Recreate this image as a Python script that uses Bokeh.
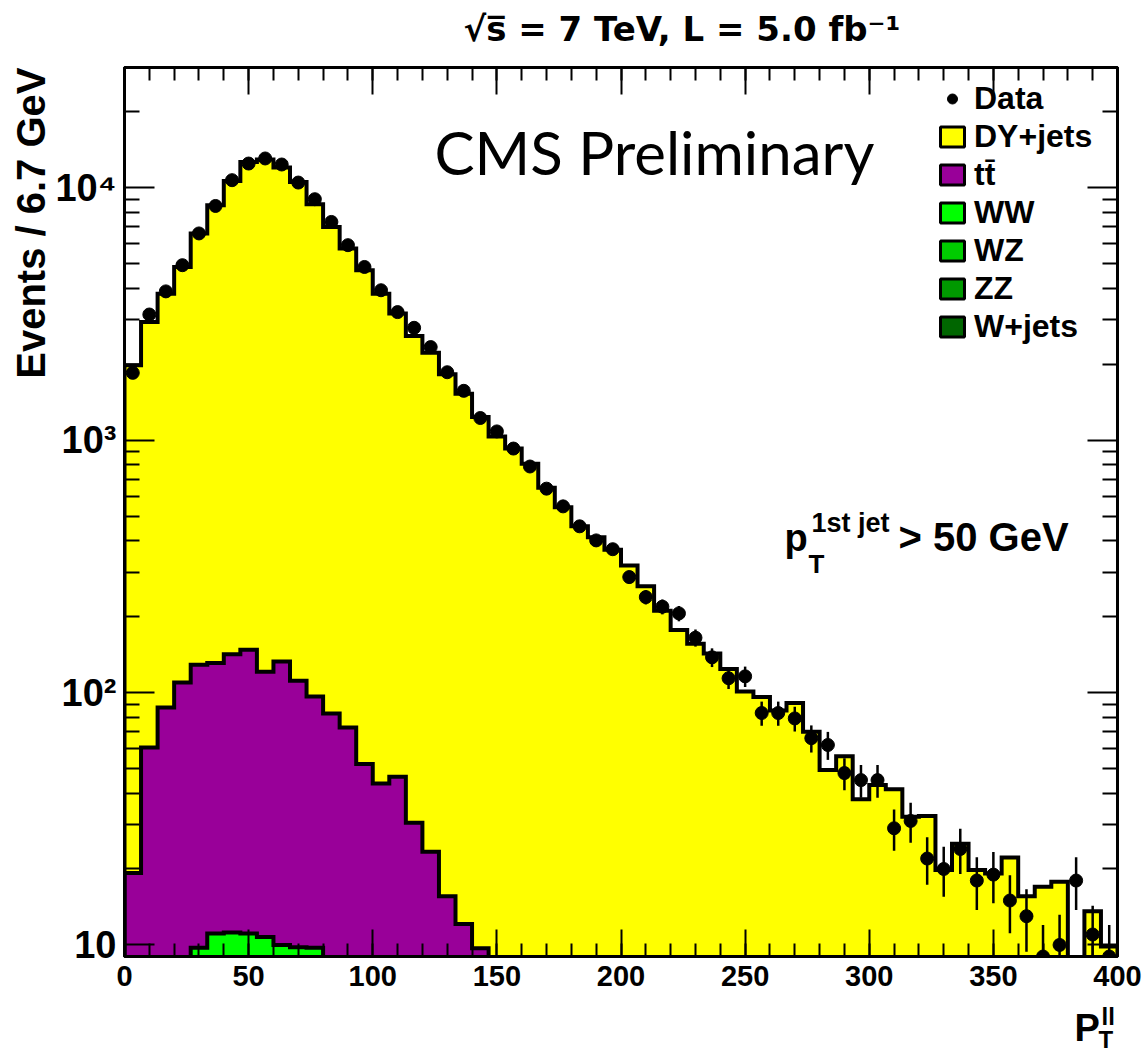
import numpy as np
from bokeh.plotting import figure
from bokeh.models import (Range1d, LinearAxis, LogAxis, FixedTicker, Label,
                          Legend, LegendItem, Title)
from bokeh.embed import file_html
from bokeh.resources import INLINE

# ---- binning: 60 bins of 6.67 GeV in dilepton pT ----
pt_low, pt_high, n_bins = 0.0, 400.0, 60

# ---- observed events per bin ----
data_counts = [1850, 3150, 3890, 4940, 6600, 8480, 10730, 12490, 13080, 12380,
               10500, 9020, 7330, 5930, 4860, 3930, 3220, 2790, 2340, 1860,
               1570, 1225, 1084, 927, 787, 643, 547, 456, 401, 370,
               287, 239, 219, 206, 165, 138, 114, 116, 83, 83,
               79, 66, 62, 48, 45, 45, 29, 31, 22, 20,
               24, 18, 19, 15, 13, 9, 10, 18, 11, 9]

# ---- simulated contributions per bin (stacked: WW, then ttbar, then DY) ----
dy_jets = [1961, 2879, 3723, 4750, 6461, 8409, 10518, 12532, 12839, 11917,
           10449, 8524, 6917, 5677, 4668, 3766, 3134, 2560, 2197, 1809,
           1518, 1226, 1036, 927, 807, 649, 543, 456, 413, 368,
           319, 264, 211, 177, 156, 143, 124, 101, 96, 85,
           91, 70, 49.3, 56, 37.8, 43, 41.4, 32.2, 32.4, 19.8,
           25.2, 19.8, 19.2, 22.2, 15.6, 17, 17.8, 0, 13.6, 9.85]

ttbar = [19.3, 60.6, 87.3, 109.6, 119.2, 119.9, 130.8, 136.7, 110.2, 122.8,
         101.6, 86.8, 82.6, 72.7, 52.1, 43.6, 46.4, 30.5, 23.4, 15.6,
         12.1, 9.7] + [0] * 38

ww = [0, 0, 0, 0, 9.75, 11.1, 11.2, 11.1, 10.75, 10.0,
      9.8, 9.75] + [0] * 48

process_names = ["DY+jets", "t\u0074\u0304", "WW", "WZ", "ZZ", "W+jets"]
process_colors = ["#ffff00", "#990099", "#00ff00", "#00cc00", "#009900", "#006600"]

y_lo, y_hi = 9.0, 3.0e4
floor = 1.0  # empty bins are drawn below the visible range

edges = np.linspace(pt_low, pt_high, n_bins + 1)
centers = 0.5 * (edges[:-1] + edges[1:])

stack_ww = np.asarray(ww, dtype=float)
stack_tt = stack_ww + np.asarray(ttbar, dtype=float)
stack_all = stack_tt + np.asarray(dy_jets, dtype=float)


def staircase(vals):
    v = np.asarray(vals, dtype=float)
    v = np.where(v > 0, v, floor)
    xs = np.concatenate([[edges[0]], np.repeat(edges, 2)[1:-1], [edges[-1]]])
    ys = np.concatenate([[floor], np.repeat(v, 2), [floor]])
    return xs, ys


FONT = "Liberation Sans"

p = figure(width=1143, height=1052, y_axis_type="log",
           x_range=Range1d(pt_low, pt_high), y_range=Range1d(y_lo, y_hi),
           output_backend="svg", toolbar_location=None,
           min_border_left=124, min_border_right=26,
           min_border_top=67, min_border_bottom=96)
p.xgrid.visible = False
p.ygrid.visible = False
p.outline_line_color = "black"
p.outline_line_width = 3
p.background_fill_color = "white"
p.border_fill_color = "white"

# ---- stacked fills, each drawn as one stepped polygon ----
for stack, color in [(stack_all, process_colors[0]),
                     (stack_tt, process_colors[1]),
                     (stack_ww, process_colors[2])]:
    xs, ys = staircase(stack)
    p.patch(xs, ys, fill_color=color, line_color=None)

# ---- histogram outlines ----
for stack in (stack_all, stack_tt, stack_ww):
    xs, ys = staircase(stack)
    p.line(xs, ys, line_color="black", line_width=4, line_join="miter")

# ---- data with Poisson errors ----
n = np.asarray(data_counts, dtype=float)
err = np.sqrt(n)
p.segment(x0=centers, y0=np.maximum(n - err, floor), x1=centers, y1=n + err,
          line_color="black", line_width=2.5)
data_r = p.scatter(x=centers, y=n, size=13, marker="circle",
                   fill_color="black", line_color="black")

# ---- axes ----
x_major = list(range(0, 401, 50))
x_minor = list(range(0, 401, 10))
y_major = [10, 100, 1000, 10000]
y_minor = [m * d for d in (10, 100, 1000, 10000) for m in range(2, 10)
           if m * d <= y_hi]


def style_axis(ax, labels=True):
    ax.axis_line_color = "black"
    ax.axis_line_width = 3
    ax.major_tick_line_color = "black"
    ax.minor_tick_line_color = "black"
    ax.major_tick_line_width = 2
    ax.minor_tick_line_width = 2
    ax.major_tick_out = 0
    ax.minor_tick_out = 0
    if not labels:
        ax.major_label_text_font_size = "0px"
        ax.major_label_text_alpha = 0
        ax.major_label_standoff = 0


xb = p.xaxis[0]
xb.ticker = FixedTicker(ticks=x_major, minor_ticks=x_minor)
style_axis(xb)
xb.major_tick_in = 27
xb.minor_tick_in = 13
xb.major_label_text_font = FONT
xb.major_label_text_font_style = "bold"
xb.major_label_text_font_size = "29px"
xb.major_label_text_color = "black"
xb.major_label_standoff = 9

yl = p.yaxis[0]
yl.ticker = FixedTicker(ticks=y_major, minor_ticks=y_minor)
style_axis(yl)
yl.major_tick_in = 30
yl.minor_tick_in = 15
yl.major_label_text_font = FONT
yl.major_label_text_font_style = "bold"
yl.major_label_text_font_size = "38px"
yl.major_label_text_color = "black"
yl.major_label_standoff = 8
yl.major_label_overrides = {10: "10", 100: "10\u00b2", 1000: "10\u00b3",
                            10000: "10\u2074"}

xt = LinearAxis(ticker=FixedTicker(ticks=x_major, minor_ticks=x_minor))
style_axis(xt, labels=False)
xt.major_tick_in = 27
xt.minor_tick_in = 13
p.add_layout(xt, "above")

yr = LogAxis(ticker=FixedTicker(ticks=y_major, minor_ticks=y_minor))
style_axis(yr, labels=False)
yr.major_tick_in = 30
yr.minor_tick_in = 15
p.add_layout(yr, "right")

# ---- y-axis title, top-aligned along the left edge ----
ylab = Title(text="Events / 6.7 GeV", align="right", offset=0, standoff=0,
             text_font=FONT, text_font_style="bold", text_font_size="40px",
             text_color="black")
p.add_layout(ylab, "left")

# ---- text placed by canvas pixel position ----
FL, FR, FT, FB = 124, 1117, 67, 956


def at(cx, cy):
    x = pt_low + (cx - FL) / (FR - FL) * (pt_high - pt_low)
    ly = np.log10(y_lo) + (FB - cy) / (FB - FT) * (np.log10(y_hi) - np.log10(y_lo))
    return float(x), float(10 ** ly)


def make_label(cx, cy, s, size, font=FONT, style="bold"):
    x, y = at(cx, cy)
    return Label(x=x, y=y, text=s, text_font=font,
                 text_font_size=f"{size}px", text_font_style=style,
                 text_color="black", text_align="left",
                 text_baseline="alphabetic")


# inside the frame
p.add_layout(make_label(434, 151, "CMS Preliminary", 60, font="Lato",
                        style="normal"))
p.add_layout(make_label(784, 537, "p", 38))
p.add_layout(make_label(808, 563, "T", 26))
p.add_layout(make_label(811, 522, "1st jet", 27))
p.add_layout(make_label(898, 536, "> 50 GeV", 40))

# outside the frame: these live in the side panels so they are not clipped
p.add_layout(make_label(463, 28, "\u221as\u0305 = 7 TeV, L = 5.0 fb\u207b\u00b9", 34,
                        font="DejaVu Sans"), "above")
p.add_layout(make_label(1074, 1027, "P", 38), "below")
p.add_layout(make_label(1098, 1039, "T", 24), "above")
p.add_layout(make_label(1101, 1016, "ll", 24), "right")

# ---- legend ----
leg_renderers = []
for color in process_colors:
    r = p.quad(left=np.array([np.nan]), right=np.array([np.nan]),
               bottom=np.array([np.nan]), top=np.array([np.nan]),
               fill_color=color, line_color="black", line_width=3)
    leg_renderers.append(r)

items = [LegendItem(label="Data", renderers=[data_r])]
items += [LegendItem(label=name, renderers=[r])
          for name, r in zip(process_names, leg_renderers)]

legend = Legend(items=items, location=(813, 611), orientation="vertical",
                border_line_color=None, background_fill_alpha=0,
                padding=0, margin=0, spacing=1,
                glyph_width=30, glyph_height=25, label_standoff=7,
                label_text_font=FONT, label_text_font_style="bold",
                label_text_font_size="32px", label_text_color="black")
p.add_layout(legend)

open("out.html", "w").write(file_html(p, INLINE))
